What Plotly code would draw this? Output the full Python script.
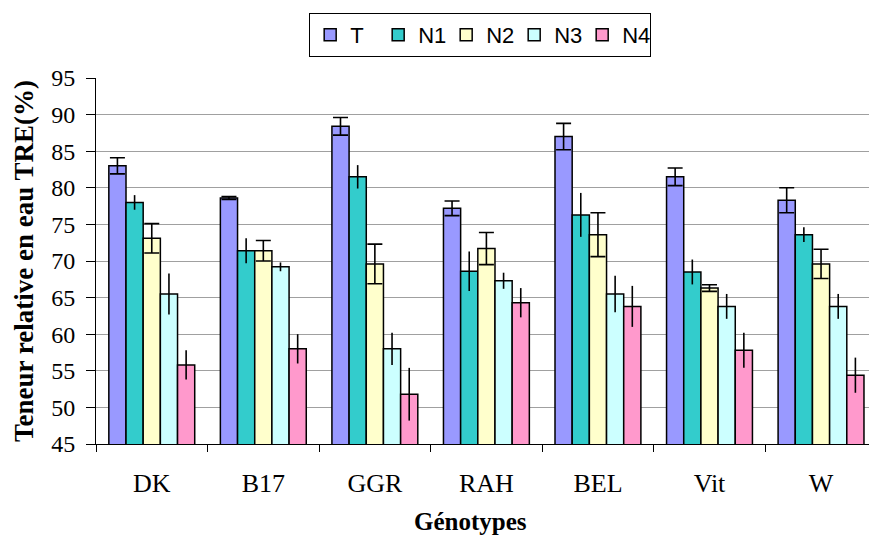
import plotly.graph_objects as go

# Genotypes on the x axis
genotypes = ["DK", "B17", "GGR", "RAH", "BEL", "Vit", "W"]

# Relative water content (%) per treatment
T_vals = [83.0, 78.6, 88.4, 77.2, 87.0, 81.5, 78.3]
N1_vals = [78.0, 71.4, 81.5, 68.6, 76.3, 68.5, 73.6]
N2_vals = [73.1, 71.4, 69.6, 71.7, 73.6, 66.3, 69.6]
N3_vals = [65.5, 69.2, 58.0, 67.3, 65.5, 63.8, 63.8]
N4_vals = [55.8, 58.0, 51.8, 64.3, 63.8, 57.8, 54.4]

# Standard errors per treatment
T_err = [1.1, 0.2, 1.2, 1.0, 1.8, 1.2, 1.7]
N1_err = [1.0, 1.7, 1.6, 2.7, 3.0, 1.7, 1.0]
N2_err = [2.0, 1.4, 2.7, 2.2, 3.0, 0.45, 2.0]
N3_err = [2.8, 0.6, 2.2, 1.1, 2.5, 1.7, 1.7]
N4_err = [2.0, 2.0, 3.6, 2.0, 2.8, 2.4, 2.4]

series = [
    ("T", T_vals, T_err, "#9999FF", 7.5),
    ("N1", N1_vals, N1_err, "#33CCCC", 0),
    ("N2", N2_vals, N2_err, "#FFFFCC", 7.5),
    ("N3", N3_vals, N3_err, "#CCFFFF", 0),
    ("N4", N4_vals, N4_err, "#FF99CC", 0),
]

fig = go.Figure()
for name, vals, errs, color, cap in series:
    fig.add_trace(go.Bar(
        name=name,
        x=genotypes,
        y=vals,
        marker=dict(color=color, line=dict(color="black", width=1.5)),
        error_y=dict(type="data", array=errs, visible=True,
                     color="black", thickness=1.6, width=cap),
    ))

serif = "Liberation Serif"

fig.update_layout(
    width=869,
    height=542,
    margin=dict(l=96, r=0, t=78, b=98),
    paper_bgcolor="white",
    plot_bgcolor="white",
    barmode="group",
    bargap=0.23,
    bargroupgap=0,
    showlegend=True,
    legend=dict(
        orientation="h",
        x=0.497, xanchor="center",
        y=1.178, yanchor="top",
        bordercolor="black", borderwidth=1,
        font=dict(family="Liberation Sans", size=22, color="black"),
        entrywidth=23, entrywidthmode="pixels",
        traceorder="normal",
    ),
    font=dict(family=serif, color="black"),
    annotations=[
        dict(
            text="<b>Génotypes</b>",
            xref="paper", yref="paper",
            x=0.484, y=-0.213,
            xanchor="center", yanchor="middle",
            showarrow=False,
            font=dict(family=serif, size=25, color="black"),
        )
    ],
)

fig.update_xaxes(
    type="category",
    range=[-0.5, 6.43],
    showline=True, linecolor="black", linewidth=1,
    ticks="outside", tickson="boundaries", ticklen=7, tickcolor="black",
    tickfont=dict(family=serif, size=26, color="black"),
    ticklabelstandoff=16,
    showgrid=False,
)

fig.update_yaxes(
    range=[45, 95],
    dtick=5,
    showline=True, linecolor="black", linewidth=1,
    ticks="outside", ticklen=9, tickcolor="black",
    tickfont=dict(family=serif, size=24, color="black"),
    ticklabelstandoff=6,
    showgrid=True, gridcolor="#A0A0A0", gridwidth=1,
    zeroline=False,
    title=dict(text="<b>Teneur relative en eau TRE(%)</b>",
               font=dict(family=serif, size=27, color="black"), standoff=9),
)

fig.write_html("out.html")
